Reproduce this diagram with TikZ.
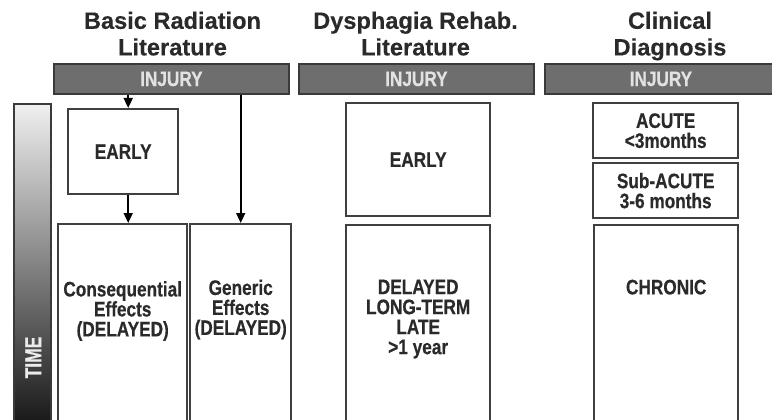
\documentclass[tikz,border=0pt]{standalone}
\usepackage{fontspec}
\setmainfont{Liberation Sans}
\newfontfamily\narrowfont{Liberation Sans}[FakeStretch=0.82, FakeBold=0.4]
\newfontfamily\timefont{Liberation Sans}[FakeStretch=0.75, FakeBold=0.4]
\newfontfamily\headfont{Liberation Sans}[FakeBold=0.3]
\usepackage{xcolor}
\usepackage{tikz}
\usetikzlibrary{arrows.meta,positioning}

\definecolor{bargray}{HTML}{6E6E6E}
\definecolor{barline}{HTML}{3A3A3A}
\definecolor{injtext}{HTML}{E2E2E2}
\definecolor{boxline}{HTML}{404040}
\definecolor{inkgray}{HTML}{2A2A2A}

\tikzset{
  box/.style={draw=boxline, line width=2.4pt, fill=white, inner sep=0pt, anchor=north west,
    align=center, text=inkgray, font=\narrowfont\bfseries\fontsize{21}{20}\selectfont},
  boxtext/.style={inner sep=0pt, anchor=north, align=center, text=inkgray,
    font=\narrowfont\bfseries\fontsize{21}{20}\selectfont},
  injury/.style={draw=barline, line width=1.8pt, fill=bargray, text=injtext, inner sep=0pt,
    anchor=north west, minimum height=30pt, font=\narrowfont\bfseries\fontsize{21}{20}\selectfont},
  coltitle/.style={inner sep=0pt, anchor=north, align=center, text=inkgray,
    font=\headfont\bfseries\fontsize{23.6}{26.6}\selectfont},
  arr/.style={-{Triangle[length=10pt,width=9pt]}, line width=1.7pt, black}
}

\begin{document}
\begin{tikzpicture}[x=1pt,y=-1pt]
\useasboundingbox (0,0) rectangle (772,420);

\node[coltitle] (title1) at (172.5,11.5) {Basic Radiation\\Literature};
\node[coltitle] (title2) at (415.5,11.5) {Dysphagia Rehab.\\Literature};
\node[coltitle] (title3) at (670,11.5) {Clinical\\Diagnosis};

\node[injury, minimum width=235pt] (bar1) at (53,63) {INJURY};
\node[injury, minimum width=235pt] (bar2) at (298,63) {INJURY};
\node[injury, minimum width=232pt, text width=228pt, align=center] (bar3) at (544,63) {INJURY};

\node[draw=barline, line width=1.8pt, anchor=north west, minimum width=37pt, minimum height=325pt,
  top color=white!94!black, bottom color=black!92] (timebar) at (13,103) {};
\node[rotate=90, inner sep=0pt, text=white!92!black,
  font=\timefont\bfseries\fontsize{23.3}{24}\selectfont] (timelbl) at (33.3,357.5) {TIME};

% basic radiation literature
\node[box, minimum width=110pt, minimum height=85pt] (early1) at (67,108) {EARLY};
\node[box, minimum width=129pt, minimum height=203pt] (conseq) at (57,223) {};
\node[box, minimum width=101pt, minimum height=203pt] (generic) at (189,223) {};
\node[boxtext, below=58pt of conseq.north] (conseqtxt) {Consequential\\Effects\\(DELAYED)};
\node[boxtext, below=56.5pt of generic.north] (generictxt) {Generic\\Effects\\(DELAYED)};

% dysphagia rehab. literature
\node[box, minimum width=144pt, minimum height=113pt] (early2) at (345,102) {EARLY};
\node[box, minimum width=144pt, minimum height=202pt] (delayed) at (345,224) {};
\node[boxtext, below=55.5pt of delayed.north] (delayedtxt) {DELAYED\\LONG-TERM\\LATE\\>1 year};

% clinical diagnosis
\node[box, minimum width=145pt, minimum height=55pt] (acute) at (592,102) {ACUTE\\<3months};
\node[box, minimum width=145pt, minimum height=55pt] (subacute) at (592,162) {Sub-ACUTE\\3-6 months};
\node[box, minimum width=144pt, minimum height=202pt] (chronic) at (593,224) {};
\node[boxtext, below=55.5pt of chronic.north] (chronictxt) {CHRONIC};

\draw[arr] ([xshift=5pt]early1.north |- bar1.south) -- ([xshift=5pt]early1.north);
\draw[arr] ([xshift=5pt]early1.south) -- ([xshift=5pt]early1.south |- conseq.north);
\draw[arr] (generic.north |- bar1.south) -- (generic.north);

\end{tikzpicture}
\end{document}
